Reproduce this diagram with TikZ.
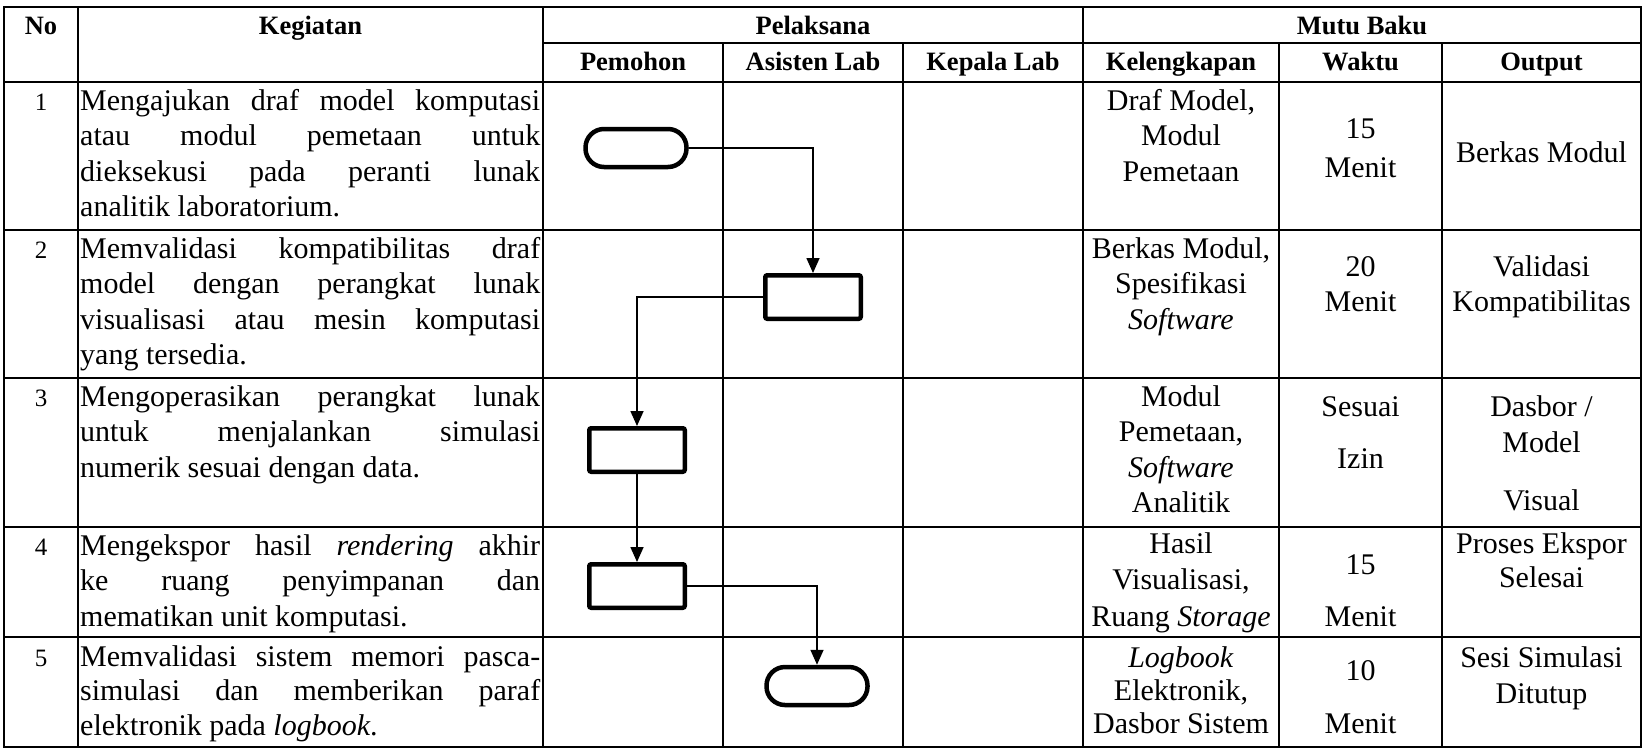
\documentclass[tikz,border=0pt]{standalone}
\usepackage{fontspec}
\setmainfont{Liberation Serif}
\usetikzlibrary{arrows.meta}

\tikzset{
  grid/.style={line width=2.6pt},
  hd/.style={font=\fontsize{26.5}{30}\selectfont\bfseries, inner sep=0pt, anchor=base},
  txt/.style={font=\fontsize{30}{35}\selectfont, inner sep=0pt},
  num/.style={font=\fontsize{25}{30}\selectfont, inner sep=0pt, anchor=base},
  term/.style={draw, line width=4.5pt, rounded corners=18.5pt, minimum width=101pt, minimum height=38pt, inner sep=0pt},
  proc/.style={draw, line width=4.5pt, rounded corners=2pt, minimum width=95.5pt, minimum height=43.5pt, inner sep=0pt},
  flow/.style={line width=1.6pt, -{Triangle[width=13pt,length=15pt]}},
}
\newcommand\kegJ[3]{\node[txt,anchor=base west] (#1) at (80,#2) {\makebox[460pt][s]{#3}};}
\newcommand\kegL[3]{\node[txt,anchor=base west] (#1) at (80,#2) {#3};}
\newcommand\cellT[4]{\node[txt,anchor=base] (#1) at (#2,#3) {#4};}

\begin{document}
\begin{tikzpicture}[x=1pt,y=-1pt]
\useasboundingbox (0,0) rectangle (1645,748);
% table grid
\draw[grid] (4,7) rectangle (1641,747);
\foreach \x in {78,543,1083} \draw[grid] (\x,7) -- (\x,747);
\foreach \x in {723,903,1279,1442} \draw[grid] (\x,43) -- (\x,747);
\draw[grid] (543,43) -- (1641,43);
\foreach \y in {82,230,378,527,637} \draw[grid] (4,\y) -- (1641,\y);

% headers
\node[hd] (hNo) at (41,34.5) {No};
\node[hd] (hKeg) at (310.5,34.5) {Kegiatan};
\node[hd] (hPel) at (813,34.5) {Pelaksana};
\node[hd] (hMutu) at (1362,34.5) {Mutu Baku};
\node[hd] (hPem) at (633,70) {Pemohon};
\node[hd] (hAs) at (813,70) {Asisten Lab};
\node[hd] (hKep) at (993,70) {Kepala Lab};
\node[hd] (hKel) at (1181,70) {Kelengkapan};
\node[hd] (hWak) at (1360.5,70) {Waktu};
\node[hd] (hOut) at (1541.5,70) {Output};

% row 1
\node[num] (n1) at (41,110) {1};
\kegJ{k1a}{110}{Mengajukan draf model komputasi}
\kegJ{k1b}{145.5}{atau modul pemetaan untuk}
\kegJ{k1c}{181}{dieksekusi pada peranti lunak}
\kegL{k1d}{216.5}{analitik laboratorium.}
\cellT{c1a}{1181}{110}{Draf Model,}
\cellT{c1b}{1181}{145.5}{Modul}
\cellT{c1c}{1181}{181}{Pemetaan}
\cellT{w1a}{1360.5}{138}{15}
\cellT{w1b}{1360.5}{177}{Menit}
\cellT{o1a}{1541.5}{162}{Berkas Modul}

% row 2
\node[num] (n2) at (41,258) {2};
\kegJ{k2a}{258}{Memvalidasi kompatibilitas draf}
\kegJ{k2b}{293.5}{model dengan perangkat lunak}
\kegJ{k2c}{329}{visualisasi atau mesin komputasi}
\kegL{k2d}{364.5}{yang tersedia.}
\cellT{c2a}{1181}{258}{Berkas Modul,}
\cellT{c2b}{1181}{293.5}{Spesifikasi}
\cellT{c2c}{1181}{329}{\textit{Software}}
\cellT{w2a}{1360.5}{276}{20}
\cellT{w2b}{1360.5}{311}{Menit}
\cellT{o2a}{1541.5}{276}{Validasi}
\cellT{o2b}{1541.5}{311}{Kompatibilitas}

% row 3
\node[num] (n3) at (41,406) {3};
\kegJ{k3a}{406}{Mengoperasikan perangkat lunak}
\kegJ{k3b}{441.5}{untuk menjalankan simulasi}
\kegL{k3c}{477}{numerik sesuai dengan data.}
\cellT{c3a}{1181}{406}{Modul}
\cellT{c3b}{1181}{441.5}{Pemetaan,}
\cellT{c3c}{1181}{477}{\textit{Software}}
\cellT{c3d}{1181}{512.5}{Analitik}
\cellT{w3a}{1360.5}{416}{Sesuai}
\cellT{w3b}{1360.5}{468.5}{Izin}
\cellT{o3a}{1541.5}{416}{Dasbor /}
\cellT{o3b}{1541.5}{452}{Model}
\cellT{o3c}{1541.5}{510}{Visual}

% row 4
\node[num] (n4) at (41,555) {4};
\kegJ{k4a}{555}{Mengekspor hasil \textit{rendering} akhir}
\kegJ{k4b}{590.5}{ke ruang penyimpanan dan}
\kegL{k4c}{626}{mematikan unit komputasi.}
\cellT{c4a}{1181}{553}{Hasil}
\cellT{c4b}{1181}{589.5}{Visualisasi,}
\cellT{c4c}{1181}{626}{Ruang \textit{Storage}}
\cellT{w4a}{1360.5}{574}{15}
\cellT{w4b}{1360.5}{626}{Menit}
\cellT{o4a}{1541.5}{553}{Proses Ekspor}
\cellT{o4b}{1541.5}{587}{Selesai}

% row 5
\node[num] (n5) at (41,666) {5};
\kegJ{k5a}{666}{Memvalidasi sistem memori pasca-}
\kegJ{k5b}{700.5}{simulasi dan memberikan paraf}
\kegL{k5c}{735}{elektronik pada \textit{logbook}.}
\cellT{c5a}{1181}{667}{\textit{Logbook}}
\cellT{c5b}{1181}{700}{Elektronik,}
\cellT{c5c}{1181}{733}{Dasbor Sistem}
\cellT{w5a}{1360.5}{680}{10}
\cellT{w5b}{1360.5}{733}{Menit}
\cellT{o5a}{1541.5}{667}{Sesi Simulasi}
\cellT{o5b}{1541.5}{703}{Ditutup}

% flowchart
\node[term] (t1) at (636,148) {};
\node[proc] (b2) at (813,297) {};
\node[proc] (b3) at (637,450) {};
\node[proc] (b4) at (637,586) {};
\node[term] (t5) at (817,686) {};
\draw[flow] (t1.east) -| (b2.north);
\draw[flow] (b2.west) -| (b3.north);
\draw[flow] (b3.south) -- (b4.north);
\draw[flow] (b4.east) -| (t5.north);
\end{tikzpicture}
\end{document}
